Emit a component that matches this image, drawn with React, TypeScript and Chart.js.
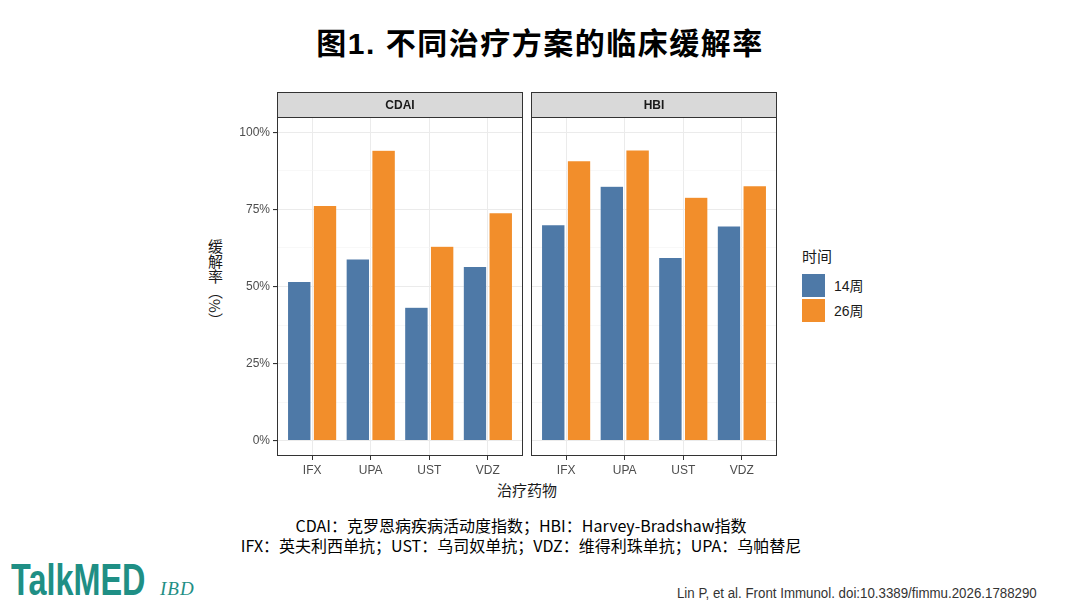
import React, { useEffect, useRef } from 'react';
import { Chart, registerables } from 'chart.js';

Chart.register(...registerables);

// data (percent)
const drugs = ['IFX', 'UPA', 'UST', 'VDZ'];
const weeks = ['14周', '26周'];
const cdai14 = [51.6, 58.9, 43.3, 56.5];
const cdai26 = [76.3, 94.2, 63.1, 73.9];
const hbi14 = [70.0, 82.5, 59.4, 69.6];
const hbi26 = [90.8, 94.3, 79.0, 82.7];
const yMajor = [0, 25, 50, 75, 100];
const yMinor = [12.5, 37.5, 62.5, 87.5];

const BLUE = '#4e79a7';
const ORANGE = '#f28e2b';
const LATIN = '"Liberation Sans", Arial, "Noto Sans CJK SC", sans-serif';
const CJK = '"Liberation Sans", "Noto Sans CJK SC", sans-serif';
const NOTO = '"Noto Sans CJK SC", sans-serif';

// ggplot-ish panel border + facet strip
const panelFrame = {
  id: 'panelFrame',
  afterDraw(chart: any, _args: any, opts: any) {
    const { ctx, chartArea: a } = chart;
    const w = a.right - a.left;
    const h = 25;
    ctx.save();
    ctx.fillStyle = '#d9d9d9';
    ctx.fillRect(a.left, a.top - h, w, h);
    ctx.strokeStyle = '#333333';
    ctx.lineWidth = 1;
    ctx.strokeRect(a.left + 0.5, a.top - h + 0.5, w - 1, h);
    ctx.strokeRect(a.left + 0.5, a.top + 0.5, w - 1, a.bottom - a.top - 1);
    ctx.fillStyle = '#1a1a1a';
    ctx.font = 'bold 12px ' + LATIN;
    ctx.textAlign = 'center';
    ctx.textBaseline = 'middle';
    ctx.fillText(opts.label, (a.left + a.right) / 2, a.top - h / 2 + 1);
    ctx.restore();
  }
};

type PanelProps = {
  label: string;
  v14: number[];
  v26: number[];
  showY: boolean;
  left: number;
  width: number;
};

const Panel: React.FC<PanelProps> = ({ label, v14, v26, showY, left, width }) => {
  const canvasRef = useRef<HTMLCanvasElement>(null);

  useEffect(() => {
    if (!canvasRef.current) return;
    const isMajor = (v: number) => Math.abs(v % 25) < 0.01;
    const chart = new Chart(canvasRef.current, {
      type: 'bar',
      data: {
        datasets: [
          {
            label: weeks[0],
            data: drugs.map((d, i) => ({ x: i + 1, y: v14[i] })),
            backgroundColor: BLUE,
            borderColor: 'rgba(255,255,255,0.5)',
            borderWidth: 0.5
          },
          {
            label: weeks[1],
            data: drugs.map((d, i) => ({ x: i + 1, y: v26[i] })),
            backgroundColor: ORANGE,
            borderColor: 'rgba(255,255,255,0.5)',
            borderWidth: 0.5
          }
        ]
      },
      options: {
        animation: false,
        responsive: true,
        maintainAspectRatio: false,
        layout: { padding: { top: 27, right: 2, left: showY ? 0 : 2, bottom: 0 } },
        datasets: { bar: { categoryPercentage: 0.88, barPercentage: 0.909 } },
        scales: {
          x: {
            type: 'linear',
            min: 0.4,
            max: 4.6,
            offset: false,
            afterBuildTicks: (scale: any) => {
              scale.ticks = drugs.map((_, i) => ({ value: i + 1 }));
            },
            afterFit: (scale: any) => {
              scale.height = 20;
            },
            ticks: {
              autoSkip: false,
              maxRotation: 0,
              padding: 3,
              color: '#4d4d4d',
              font: { family: LATIN, size: 12 },
              callback: (v: any) => drugs[Math.round(Number(v)) - 1] ?? ''
            },
            grid: { offset: false, color: '#ebebeb', lineWidth: 1, tickColor: '#333333', tickLength: 4 },
            border: { display: false }
          },
          y: {
            min: -5,
            max: 105,
            afterBuildTicks: (scale: any) => {
              scale.ticks = [...yMajor, ...yMinor].sort((a, b) => a - b).map((v) => ({ value: v }));
            },
            afterFit: (scale: any) => {
              scale.width = showY ? 50 : 0;
            },
            ticks: {
              display: showY,
              padding: 3,
              color: '#4d4d4d',
              font: { family: LATIN, size: 12 },
              callback: (v: any) => (isMajor(Number(v)) ? `${v}%` : '')
            },
            grid: {
              color: (c: any) => (c.tick && isMajor(c.tick.value) ? '#ebebeb' : '#f4f4f4'),
              lineWidth: (c: any) => (c.tick && isMajor(c.tick.value) ? 1.1 : 0.6),
              tickColor: (c: any) => (c.tick && isMajor(c.tick.value) ? '#333333' : 'rgba(0,0,0,0)'),
              drawTicks: showY,
              tickLength: 4
            },
            border: { display: false }
          }
        },
        plugins: {
          legend: { display: false },
          tooltip: { enabled: false },
          panelFrame: { label }
        } as any
      },
      plugins: [panelFrame]
    } as any);
    return () => chart.destroy();
  }, [label, v14, v26, showY]);

  return (
    <div style={{ position: 'absolute', left, top: 90, width, height: 386 }}>
      <canvas ref={canvasRef} />
    </div>
  );
};

const text = (style: React.CSSProperties, children: React.ReactNode) => (
  <div style={{ position: 'absolute', whiteSpace: 'nowrap', ...style }}>{children}</div>
);

export default function App() {
  return (
    <div
      style={{
        position: 'fixed',
        left: 0,
        top: 0,
        width: 1080,
        height: 608,
        background: '#ffffff',
        overflow: 'hidden',
        fontFamily: CJK,
        color: '#000'
      }}
    >
      {text(
        { left: 0, width: 1080, top: 23, textAlign: 'center', fontSize: 30, fontWeight: 'bold', lineHeight: '42px', letterSpacing: 1.5, fontFamily: CJK },
        '图1. 不同治疗方案的临床缓解率'
      )}

      <Panel label="CDAI" v14={cdai14} v26={cdai26} showY={true} left={227} width={298} />
      <Panel label="HBI" v14={hbi14} v26={hbi26} showY={false} left={529} width={250} />

      {text(
        { left: 204, top: 239, width: 22, writingMode: 'vertical-rl', fontSize: 15, lineHeight: '22px', color: '#1a1a1a', fontFamily: NOTO },
        '缓解率（%）'
      )}
      {text(
        { left: 427, width: 200, top: 480, textAlign: 'center', fontSize: 15, lineHeight: '20px', color: '#1a1a1a', fontFamily: NOTO },
        '治疗药物'
      )}

      {/* legend */}
      {text({ left: 802, top: 245, fontSize: 15, lineHeight: '22px', color: '#1a1a1a', fontFamily: NOTO }, '时间')}
      <div style={{ position: 'absolute', left: 802, top: 274, width: 23, height: 23, background: BLUE }} />
      <div style={{ position: 'absolute', left: 802, top: 299, width: 23, height: 23, background: ORANGE }} />
      {text({ left: 834, top: 275, fontSize: 14, lineHeight: '22px', color: '#1a1a1a', fontFamily: CJK }, weeks[0])}
      {text({ left: 834, top: 300, fontSize: 14, lineHeight: '22px', color: '#1a1a1a', fontFamily: CJK }, weeks[1])}

      {/* footnotes */}
      {text(
        { left: 0, width: 1042, top: 515, textAlign: 'center', fontSize: 16, lineHeight: '20px', fontFamily: NOTO },
        'CDAI：克罗恩病疾病活动度指数；HBI：Harvey-Bradshaw指数'
      )}
      {text(
        { left: 0, width: 1042, top: 535, textAlign: 'center', fontSize: 16, lineHeight: '20px', fontFamily: NOTO },
        'IFX：英夫利西单抗；UST：乌司奴单抗；VDZ：维得利珠单抗；UPA：乌帕替尼'
      )}

      {/* logo */}
      {text(
        { left: 11, top: 552, fontSize: 45, fontWeight: 'bold', lineHeight: '56px', color: '#1f8f85', fontFamily: LATIN, transform: 'scaleX(0.72)', transformOrigin: 'left center' },
        'TalkMED'
      )}
      {text(
        { left: 160, top: 577, fontSize: 19, fontStyle: 'italic', lineHeight: '24px', color: '#1f8f85', fontFamily: '"Liberation Serif", serif', letterSpacing: 1 },
        'IBD'
      )}
      {text(
        { right: 43, top: 584, fontSize: 14, lineHeight: '18px', color: '#333', fontFamily: LATIN, transform: 'scaleX(0.95)', transformOrigin: 'right center' },
        'Lin P, et al. Front Immunol. doi:10.3389/fimmu.2026.1788290'
      )}
    </div>
  );
}
